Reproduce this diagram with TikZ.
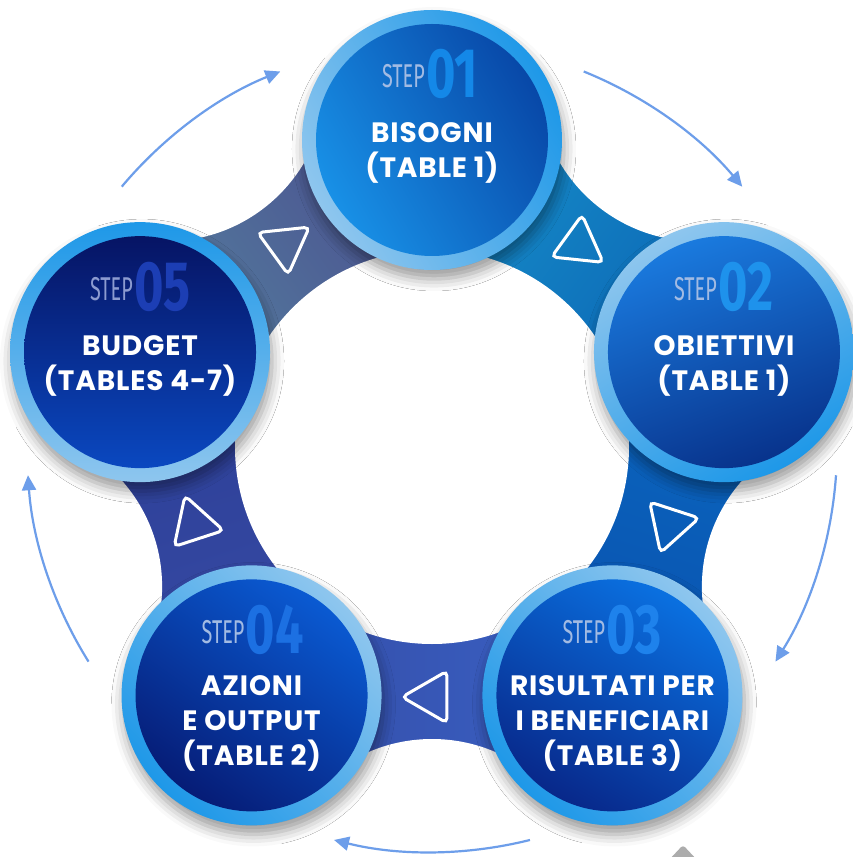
\documentclass[tikz,border=0pt]{standalone}
\usepackage{fontspec}
\usetikzlibrary{arrows.meta,positioning,shapes.geometric,shadows.blur}
\newfontfamily\titlefont{Poppins}[LetterSpace=3]
\newfontfamily\stepfont{Fira Sans}[FakeStretch=0.6]
\newfontfamily\numfont{Fira Sans}[FakeStretch=0.72]
\definecolor{ringlt}{HTML}{8EC6EE}
\definecolor{ringbl}{HTML}{1E98E8}
\definecolor{steptx}{HTML}{A2BBE3}
\definecolor{arrowcol}{HTML}{6D9EEA}
% band colours
\definecolor{bandA}{RGB}{86,134,160}
\definecolor{bandB}{RGB}{74,80,144}
\definecolor{bandC}{RGB}{22,140,200}
\definecolor{bandD}{RGB}{10,96,178}
\definecolor{bandE}{RGB}{10,104,192}
\definecolor{bandF}{RGB}{10,78,172}
\definecolor{bandG}{RGB}{58,100,200}
\definecolor{bandH}{RGB}{52,74,164}
\definecolor{bandI}{RGB}{56,76,166}
\definecolor{bandJ}{RGB}{44,62,150}
% step colours
\definecolor{core1a}{RGB}{24,144,230}  \definecolor{core1b}{RGB}{8,72,168}
\definecolor{core2a}{RGB}{26,122,222}  \definecolor{core2b}{RGB}{8,51,140}
\definecolor{core3a}{RGB}{10,112,224}  \definecolor{core3b}{RGB}{8,40,138}
\definecolor{core4a}{RGB}{10,90,210}   \definecolor{core4b}{RGB}{6,28,118}
\definecolor{core5a}{RGB}{6,20,100}    \definecolor{core5b}{RGB}{10,72,192}
\definecolor{num1}{RGB}{20,136,232}
\definecolor{num2}{RGB}{30,146,236}
\definecolor{num3}{RGB}{30,130,236}
\definecolor{num4}{RGB}{28,112,226}
\definecolor{num5}{RGB}{28,62,180}
\definecolor{step5}{RGB}{140,155,208}
\tikzset{
  s ring/.style={circle, minimum size=260pt, inner sep=0pt, left color=ringlt, right color=ringbl,
    blur shadow={shadow xshift=2pt, shadow yshift=-9pt, shadow blur radius=12pt, shadow opacity=40}},
  s core/.style 2 args={circle, minimum size=232pt, inner sep=0pt, left color=#1, right color=#2},
  s step/.style={font=\stepfont\fontsize{33}{33}\selectfont, text=steptx, inner sep=0pt, anchor=base east},
  s num/.style={font=\numfont\bfseries\fontsize{70}{70}\selectfont, inner sep=0pt, anchor=base west},
  s title/.style={font=\titlefont\bfseries\fontsize{28}{35}\selectfont, text=white, align=center, inner sep=0pt, anchor=base},
  s tri/.style={draw=white, line width=3pt, rounded corners=5pt, regular polygon, regular polygon sides=3,
    minimum size=60pt, inner sep=0pt},
  s arr/.style={-{Triangle[length=15pt, width=14pt]}, draw=arrowcol, line width=2.2pt},
  s cut/.style={fill=white},
}
\begin{document}
\begin{tikzpicture}[x=1pt, y=1pt]
\useasboundingbox (-432,-410) rectangle (420,447);
% band between the steps
\shade[left color=bandA, right color=bandB, shading angle=126]
  (0,0) -- (162:330pt) arc[start angle=162, end angle=90, radius=330pt] -- cycle;
\shade[left color=bandC, right color=bandD, shading angle=54]
  (0,0) -- (90:330pt) arc[start angle=90, end angle=18, radius=330pt] -- cycle;
\shade[left color=bandE, right color=bandF, shading angle=-18]
  (0,0) -- (18:330pt) arc[start angle=18, end angle=-54, radius=330pt] -- cycle;
\shade[left color=bandG, right color=bandH, shading angle=270]
  (0,0) -- (-54:330pt) arc[start angle=-54, end angle=-126, radius=330pt] -- cycle;
\shade[left color=bandI, right color=bandJ, shading angle=198]
  (0,0) -- (-126:330pt) arc[start angle=-126, end angle=-198, radius=330pt] -- cycle;
\fill[s cut] (126:452pt) circle[radius=160pt];
\fill[s cut] (54:452pt) circle[radius=160pt];
\fill[s cut] (-18:452pt) circle[radius=160pt];
\fill[s cut] (-90:452pt) circle[radius=160pt];
\fill[s cut] (198:452pt) circle[radius=160pt];
\fill[s cut] (0,0) circle[radius=197pt];

% steps
\node[s ring, shading angle=120] (s1) at (90:307pt) {};
\node[s core={core1a}{core1b}, shading angle=120] (c1) at (s1) {};
\node[s ring, shading angle=30] (s2) at (18:307pt) {};
\node[s core={core2a}{core2b}, shading angle=20] (c2) at (s2) {};
\node[s ring, shading angle=315] (s3) at (-54:307pt) {};
\node[s core={core3a}{core3b}, shading angle=330] (c3) at (s3) {};
\node[s ring, shading angle=315] (s4) at (-126:307pt) {};
\node[s core={core4a}{core4b}, shading angle=325] (c4) at (s4) {};
\node[s ring, shading angle=180] (s5) at (162:307pt) {};
\node[s core={core5a}{core5b}, shading angle=0] (c5) at (s5) {};

% triangles on the band
\node[s tri, rotate=-54] (tr1) at (126:250pt) {};
\node[s tri, rotate=-126] (tr2) at (54:250pt) {};
\node[s tri, rotate=162] (tr3) at (-18:250pt) {};
\node[s tri, rotate=90] (tr4) at (-90:250pt) {};
\node[s tri, rotate=18] (tr5) at (198:250pt) {};

% arrows round the outside
\coordinate (ar1) at (140:405pt);
\coordinate (ar2) at (68:405pt);
\coordinate (ar3) at (-4:405pt);
\coordinate (ar4) at (-76:405pt);
\coordinate (ar5) at (212:405pt);
\draw[s arr] (ar1) arc[start angle=140, end angle=112, radius=405pt];
\draw[s arr] (ar2) arc[start angle=68, end angle=40, radius=405pt];
\draw[s arr] (ar3) arc[start angle=-4, end angle=-32, radius=405pt];
\draw[s arr] (ar4) arc[start angle=-76, end angle=-104, radius=405pt];
\draw[s arr] (ar5) arc[start angle=212, end angle=184, radius=405pt];

% labels
\node[s num, text=num1] (n1) at ([xshift=-6pt, yshift=42pt]s1.center) {01};
\node[s step] (p1) at ([xshift=-1pt, yshift=10pt]n1.base west) {STEP};
\node[s title] (t1) at ([yshift=-38pt]s1.center) {BISOGNI\\(TABLE 1)};
\node[s num, text=num2] (n2) at ([xshift=-6pt, yshift=42pt]s2.center) {02};
\node[s step] (p2) at ([xshift=-1pt, yshift=10pt]n2.base west) {STEP};
\node[s title] (t2) at ([yshift=-38pt]s2.center) {OBIETTIVI\\(TABLE 1)};
\node[s num, text=num3] (n3) at ([xshift=-6pt, yshift=42pt]s3.center) {03};
\node[s step] (p3) at ([xshift=-1pt, yshift=10pt]n3.base west) {STEP};
\node[s title] (t3) at ([yshift=-70pt]s3.center) {RISULTATI PER\\I BENEFICIARI\\(TABLE 3)};
\node[s num, text=num4] (n4) at ([xshift=-6pt, yshift=42pt]s4.center) {04};
\node[s step] (p4) at ([xshift=-1pt, yshift=10pt]n4.base west) {STEP};
\node[s title] (t4) at ([yshift=-70pt]s4.center) {AZIONI\\E OUTPUT\\(TABLE 2)};
\node[s num, text=num5] (n5) at ([xshift=-6pt, yshift=42pt]s5.center) {05};
\node[s step, text=step5] (p5) at ([xshift=-1pt, yshift=10pt]n5.base west) {STEP};
\node[s title] (t5) at ([yshift=-38pt]s5.center) {BUDGET\\(TABLES 4-7)};

\fill[gray!65, rounded corners=3pt] (251,-398) -- (236,-414) -- (266,-414) -- cycle;
\end{tikzpicture}
\end{document}
